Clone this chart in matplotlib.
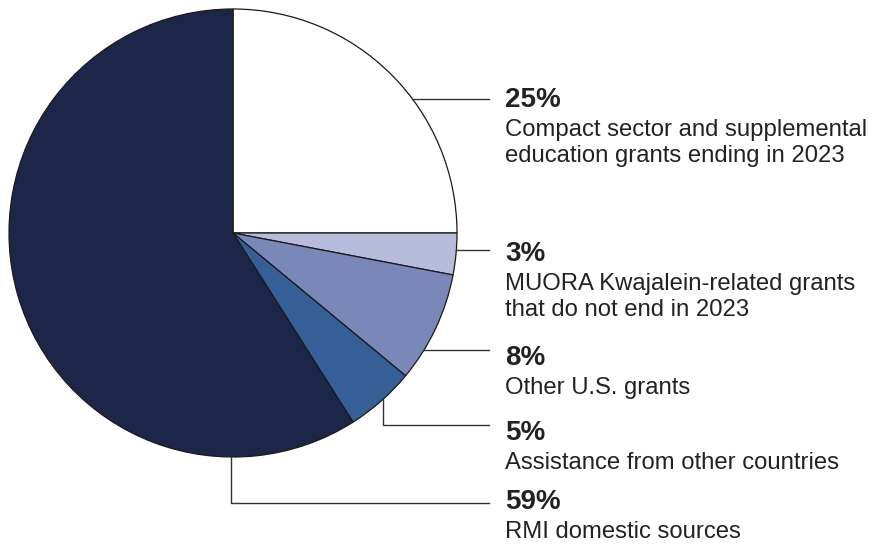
import matplotlib.pyplot as plt
import numpy as np

plt.rcParams['font.family'] = ['Liberation Sans', 'DejaVu Sans']

# 数据
shares = [25, 3, 8, 5, 59]
descriptions = [
    'Compact sector and supplemental\neducation grants ending in 2023',
    'MUORA Kwajalein-related grants\nthat do not end in 2023',
    'Other U.S. grants',
    'Assistance from other countries',
    'RMI domestic sources',
]
colors = ['#ffffff', '#b7bcdd', '#7987b9', '#365f98', '#1b2648']

# 布局 (像素坐标, y 向下)
W, H = 879, 544
cx, cy, r = 233, 233, 224
line_y = [99, 250, 350, 425, 503]
elbow_x = [None, None, None, 383, 231]
pct_base = [107, 261, 365, 440, 509]
line_end = 489
text_x = 505
txt_col = '#222222'


def Y(y):
    return H - y


fig = plt.figure(figsize=(W / 100, H / 100), dpi=100)
ax = fig.add_axes([0, 0, 1, 1])

ax.pie(shares, colors=colors, startangle=90, counterclock=False,
       radius=r, center=(cx, Y(cy)),
       wedgeprops=dict(edgecolor='#1a1a1a', linewidth=0.9))

for i, v in enumerate(shares):
    ly = line_y[i]
    if elbow_x[i] is None:
        x0 = cx + np.sqrt(r ** 2 - (ly - cy) ** 2)
        xs, ys = [x0, line_end], [ly, ly]
    else:
        ex = elbow_x[i]
        y0 = cy + np.sqrt(r ** 2 - (ex - cx) ** 2)
        xs, ys = [ex, ex, line_end], [y0, ly, ly]
    ax.plot(xs, [Y(y) for y in ys], color='#333333', lw=1.0)

    ax.text(text_x, Y(pct_base[i]), f'{v}%', fontsize=20, fontweight='bold',
            color=txt_col, ha='left', va='baseline')
    for j, line in enumerate(descriptions[i].split('\n')):
        ax.text(text_x, Y(pct_base[i] + 29 + 26 * j), line, fontsize=17.2,
                color=txt_col, ha='left', va='baseline')

ax.set_xlim(0, W)
ax.set_ylim(0, H)
ax.set_aspect('equal')
ax.axis('off')

fig.savefig('out.png', dpi=100)
